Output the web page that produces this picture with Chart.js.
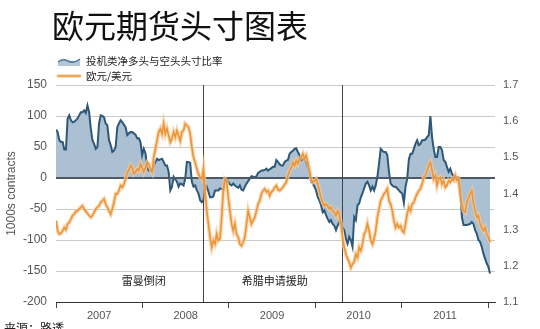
<!DOCTYPE html>
<html lang="zh-CN">
<head>
<meta charset="utf-8">
<title>欧元期货头寸图表</title>
<script src="https://cdn.jsdelivr.net/npm/chart.js@4.4.1/dist/chart.umd.min.js"></script>
<style>
  html, body { margin: 0; padding: 0; background: #fff; }
  #wrap { width: 540px; height: 329px; position: relative; }
</style>
</head>
<body>
<div id="wrap"><canvas id="positionsChart" width="540" height="329"></canvas></div>
<script>
// Weekly values, week 0 = first week of January 2007
const years = [2007, 2008, 2009, 2010, 2011];
const weeksPerYear = 52.18;

// speculative net long minus short positions, 1000s contracts
const netPositions = [
  78, 74, 61, 58, 58, 46, 46, 96, 101, 93,
  90, 91, 93, 96, 101, 106, 106, 109, 105, 117,
  106, 80, 61, 55, 47, 50, 88, 101, 100, 98,
  88, 85, 61, 53, 42, 44, 50, 82, 88, 93,
  90, 86, 82, 69, 72, 74, 74, 72, 70, 64,
  64, 58, 37, 47, 40, 18, 12, 12, 12, 20,
  26, 31, 29, 30, 31, 26, 20, 20, 10, -20,
  -14, 2, -2, -6, -14, -9, -10, -12, -1, 26,
  26, 24, -6, -14, -12, -20, -25, -36, -39, -36,
  -20, -14, -22, -31, -31, -30, -20, -20, -20, -17,
  -18, -19, -4, -1, -6, -10, -12, -9, -12, -14,
  -16, -12, -19, -20, -14, -9, -5, -1, 3, 2,
  1, 3, 8, 10, 12, 12, 13, 15, 12, 14,
  16, 18, 18, 29, 26, 22, 20, 20, 26, 28,
  29, 39, 42, 44, 47, 48, 42, 37, 29, 31,
  28, 26, 18, 7, -6, -9, -14, -20, -31, -36,
  -44, -55, -52, -60, -66, -71, -68, -74, -77, -84,
  -77, -71, -74, -80, -84, -98, -106, -95, -100, -111,
  -63, -68, -44, -41, -31, -25, -17, -9, -6, -12,
  -20, -14, -20, -12, 2, 23, 47, 44, 42, 42,
  37, 10, -9, -12, -14, -14, -17, -20, -23, -25,
  -40, -14, -1, 30, 39, 39, 47, 55, 61, 53,
  55, 61, 61, 62, 66, 69, 100, 66, 47, 34,
  34, 50, 50, 45, 29, 26, 18, 10, 15, 7,
  3, 3, 1, 1, -20, -63, -76, -76, -76, -75,
  -74, -71, -74, -84, -90, -100, -103, -111, -122, -130,
  -138, -143, -154
];

// EUR/USD
const eurUsd = [
  1.325, 1.297, 1.288, 1.29, 1.297, 1.306, 1.30, 1.316, 1.32, 1.329,
  1.339, 1.343, 1.351, 1.352, 1.357, 1.362, 1.366, 1.357, 1.351, 1.345,
  1.339, 1.334, 1.339, 1.348, 1.357, 1.362, 1.366, 1.375, 1.38, 1.385,
  1.371, 1.362, 1.352, 1.343, 1.357, 1.375, 1.399, 1.399, 1.408, 1.422,
  1.417, 1.426, 1.44, 1.459, 1.465, 1.478, 1.472, 1.454, 1.459, 1.468,
  1.463, 1.482, 1.472, 1.459, 1.472, 1.486, 1.482, 1.468, 1.459, 1.50,
  1.523, 1.546, 1.57, 1.579, 1.565, 1.593, 1.565, 1.579, 1.56, 1.542,
  1.551, 1.57, 1.556, 1.574, 1.56, 1.546, 1.57, 1.574, 1.593, 1.588,
  1.584, 1.565, 1.528, 1.50, 1.486, 1.468, 1.454, 1.445, 1.44, 1.468,
  1.408, 1.352, 1.316, 1.279, 1.251, 1.27, 1.26, 1.288, 1.27, 1.275,
  1.334, 1.408, 1.44, 1.435, 1.389, 1.352, 1.316, 1.297, 1.316, 1.288,
  1.279, 1.26, 1.255, 1.265, 1.279, 1.316, 1.352, 1.334, 1.316, 1.325,
  1.334, 1.352, 1.371, 1.38, 1.399, 1.408, 1.413, 1.404, 1.408, 1.394,
  1.404, 1.408, 1.417, 1.422, 1.41, 1.408, 1.412, 1.417, 1.425, 1.431,
  1.45, 1.463, 1.472, 1.486, 1.477, 1.491, 1.482, 1.495, 1.50, 1.51,
  1.495, 1.505, 1.486, 1.463, 1.44, 1.431, 1.435, 1.44, 1.426, 1.408,
  1.389, 1.375, 1.366, 1.371, 1.366, 1.357, 1.362, 1.352, 1.348, 1.339,
  1.352, 1.343, 1.316, 1.279, 1.251, 1.232, 1.22, 1.21, 1.195, 1.205,
  1.21, 1.232, 1.223, 1.251, 1.242, 1.26, 1.288, 1.297, 1.316, 1.297,
  1.27, 1.26, 1.275, 1.297, 1.334, 1.357, 1.38, 1.389, 1.399, 1.405,
  1.413, 1.38, 1.371, 1.352, 1.325, 1.306, 1.316, 1.306, 1.311, 1.297,
  1.292, 1.316, 1.343, 1.362, 1.352, 1.371, 1.375, 1.389, 1.399, 1.408,
  1.413, 1.426, 1.445, 1.45, 1.463, 1.477, 1.486, 1.465, 1.44, 1.45,
  1.422, 1.44, 1.445, 1.426, 1.436, 1.417, 1.422, 1.436, 1.431, 1.44,
  1.436, 1.45, 1.436, 1.44, 1.399, 1.371, 1.352, 1.348, 1.375, 1.389,
  1.399, 1.408, 1.375, 1.352, 1.334, 1.339, 1.316, 1.306, 1.297, 1.306,
  1.288, 1.279, 1.265
];

// Lehman collapse (Sep 2008) and Greek bailout request (Apr 2010)
const eventNames = ["雷曼倒闭", "希腊申请援助"];
const eventWeeks = [89, 172.6];
const eventLabelWeeks = [53, 132];

const leftTicks = { min: -200, max: 150, step: 50 };
const rightTicks = { min: 1.1, max: 1.7, step: 0.1 };

const toPoints = arr => arr.map((v, i) => ({ x: i, y: v }));

// year boundaries on even indexes, year label positions on odd ones
const xTicks = [];
years.forEach((yr, i) => {
  xTicks.push(i * weeksPerYear, (i + 0.5) * weeksPerYear);
});
xTicks.push(years.length * weeksPerYear);

const latin = '"Liberation Sans", Arial, sans-serif';
const cjk = '"Noto Sans CJK SC", "Noto Sans", sans-serif';

const decorations = {
  id: 'decorations',
  afterDatasetDraw(chart, args) {
    if (args.index !== 0) return;
    const { ctx, chartArea: a, scales: { x, y } } = chart;
    ctx.save();
    // zero line
    const y0 = Math.round(y.getPixelForValue(0));
    ctx.strokeStyle = '#4b5a66';
    ctx.lineWidth = 2;
    ctx.beginPath();
    ctx.moveTo(a.left, y0);
    ctx.lineTo(a.right, y0);
    ctx.stroke();
    // event markers
    ctx.strokeStyle = '#444';
    ctx.lineWidth = 1;
    eventWeeks.forEach(w => {
      const px = Math.round(x.getPixelForValue(w)) + 0.5;
      ctx.beginPath();
      ctx.moveTo(px, a.top);
      ctx.lineTo(px, a.bottom);
      ctx.stroke();
    });
    ctx.restore();
  },
  afterDraw(chart) {
    const { ctx, chartArea: a, scales: { x } } = chart;
    ctx.save();

    // title
    ctx.fillStyle = '#111';
    ctx.font = '32px ' + cjk;
    ctx.textBaseline = 'middle';
    ctx.textAlign = 'left';
    ctx.fillText('欧元期货头寸图表', 52, 26);

    // legend: net positions
    ctx.beginPath();
    ctx.moveTo(58, 62);
    ctx.quadraticCurveTo(63, 58, 68, 61);
    ctx.quadraticCurveTo(74, 64, 80, 59);
    ctx.lineTo(80, 66);
    ctx.lineTo(58, 66);
    ctx.closePath();
    ctx.fillStyle = '#b3c6d6';
    ctx.fill();
    ctx.beginPath();
    ctx.moveTo(58, 62);
    ctx.quadraticCurveTo(63, 58, 68, 61);
    ctx.quadraticCurveTo(74, 64, 80, 59);
    ctx.strokeStyle = '#4f7594';
    ctx.lineWidth = 1.5;
    ctx.stroke();

    // legend: EUR/USD
    ctx.lineCap = 'round';
    ctx.strokeStyle = 'rgba(246,196,140,0.8)';
    ctx.lineWidth = 3.5;
    ctx.beginPath(); ctx.moveTo(58, 76); ctx.lineTo(80, 76); ctx.stroke();
    ctx.strokeStyle = '#ec9a3e';
    ctx.lineWidth = 1.5;
    ctx.beginPath(); ctx.moveTo(58, 76); ctx.lineTo(80, 76); ctx.stroke();

    ctx.fillStyle = '#222';
    ctx.font = '10.5px ' + cjk;
    ctx.fillText('投机类净多头与空头头寸比率', 86, 61);
    ctx.fillText('欧元/美元', 86, 76);

    // event captions
    ctx.font = '11px ' + cjk;
    ctx.textAlign = 'center';
    eventNames.forEach((name, i) => {
      ctx.fillText(name, x.getPixelForValue(eventLabelWeeks[i]), a.bottom - 21);
    });

    // source line, cut by the bottom edge
    ctx.textAlign = 'left';
    ctx.textBaseline = 'top';
    ctx.font = '12px ' + cjk;
    ctx.fillText('来源：路透', 4, 322);
    ctx.restore();
  }
};

new Chart(document.getElementById('positionsChart'), {
  type: 'line',
  data: {
    datasets: [
      {
        label: '投机类净多头与空头头寸比率',
        data: toPoints(netPositions),
        yAxisID: 'y',
        borderColor: '#2e5878',
        borderWidth: 2,
        backgroundColor: '#abc0d2',
        fill: 'origin',
        pointRadius: 0,
        tension: 0,
        order: 3
      },
      {
        label: 'halo',
        data: toPoints(eurUsd),
        yAxisID: 'y1',
        borderColor: 'rgba(247,200,150,0.75)',
        borderWidth: 4,
        pointRadius: 0,
        tension: 0,
        order: 2
      },
      {
        label: '欧元/美元',
        data: toPoints(eurUsd),
        yAxisID: 'y1',
        borderColor: '#ec9537',
        borderWidth: 1.6,
        pointRadius: 0,
        tension: 0,
        order: 1
      }
    ]
  },
  options: {
    responsive: false,
    animation: false,
    devicePixelRatio: 1,
    layout: { padding: { top: 85, left: 0, right: 0, bottom: 0 } },
    plugins: {
      legend: { display: false },
      tooltip: { enabled: false },
      title: { display: false }
    },
    scales: {
      x: {
        type: 'linear',
        min: 0,
        max: 265,
        afterFit: s => { s.height = 27; },
        afterBuildTicks: s => { s.ticks = xTicks.map(v => ({ value: v })); },
        ticks: {
          autoSkip: false,
          maxRotation: 0,
          padding: 1,
          color: '#555',
          font: { family: latin, size: 11 },
          callback: (v, i) => (i % 2 ? String(years[(i - 1) / 2]) : '')
        },
        grid: {
          drawOnChartArea: false,
          tickLength: 6,
          color: ctx => (ctx.index % 2 ? 'rgba(0,0,0,0)' : '#444')
        },
        border: { display: true, color: '#333', width: 1 }
      },
      y: {
        position: 'left',
        min: leftTicks.min,
        max: leftTicks.max,
        afterFit: s => { s.width = 56; },
        ticks: {
          stepSize: leftTicks.step,
          padding: 9,
          color: '#555',
          font: { family: latin, size: 12 }
        },
        grid: {
          drawTicks: false,
          color: ctx => (ctx.tick && ctx.tick.value === 0 ? 'rgba(0,0,0,0)' : '#cacaca')
        },
        border: { display: false },
        title: {
          display: true,
          text: '1000s contracts',
          color: '#555',
          padding: { top: 4, bottom: 0 },
          font: { family: latin, size: 12 }
        }
      },
      y1: {
        position: 'right',
        min: rightTicks.min,
        max: rightTicks.max,
        afterFit: s => { s.width = 45; },
        ticks: {
          stepSize: rightTicks.step,
          padding: 8,
          color: '#555',
          font: { family: latin, size: 11 },
          callback: v => v.toFixed(1)
        },
        grid: { drawOnChartArea: false, drawTicks: false },
        border: { display: false }
      }
    }
  },
  plugins: [decorations]
});
</script>
</body>
</html>
